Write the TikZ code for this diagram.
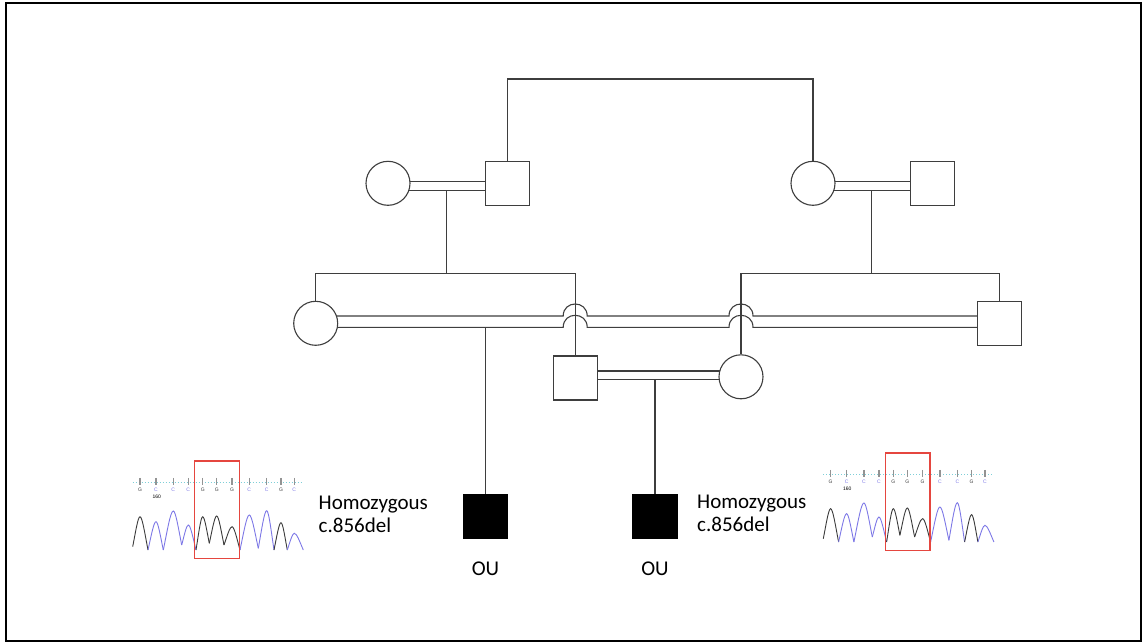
\documentclass[tikz,border=0pt]{standalone}
\usepackage{fontspec}
\setmainfont{Carlito}
\newfontfamily\seqfont{Liberation Sans}
\usetikzlibrary{calc}
\pgfdeclarelayer{bg}\pgfsetlayers{bg,main}
\definecolor{lc}{HTML}{3E3E3E}
\definecolor{tblue}{HTML}{7D78E6}
\definecolor{tgray}{HTML}{3A3A3A}
\definecolor{dotc}{HTML}{7FCFD8}
\definecolor{boxred}{HTML}{E5463F}
\newcommand\hopline[1]{%
  \draw[pl] (C1 |- #1) -- ($(S1 |- #1)+(-12,0)$)
    .. controls +(0,-16) and +(0,-16) .. ($(S1 |- #1)+(12,0)$)
    -- ($(F3 |- #1)+(-12,0)$)
    .. controls +(0,-16) and +(0,-16) .. ($(F3 |- #1)+(12,0)$)
    -- (M3 |- #1);}
\newcommand\pk[7]{%
  \pgfmathsetmacro\pkA{#2+0.4*(#4-#2)}%
  \pgfmathsetmacro\pkB{#3-0.5*(#3-#5)}%
  \pgfmathsetmacro\pkC{#4-0.28*(#4-#2)}%
  \pgfmathsetmacro\pkD{#4+0.28*(#6-#4)}%
  \pgfmathsetmacro\pkE{#6-0.4*(#6-#4)}%
  \pgfmathsetmacro\pkF{#7-0.5*(#7-#5)}%
  \draw[#1] (#2,#3) .. controls (\pkA,\pkB) and (\pkC,#5) .. (#4,#5)
     .. controls (\pkD,#5) and (\pkE,\pkF) .. (#6,#7);}
\newcommand\chromat[2]{%
\begin{scope}[shift={(#1,#2)}]
  \draw[dotc, dotted, line width=1pt] (0,0) -- (170.5,0);
  \foreach \x/\b/\c in {7.3/G/tgray,23.3/C/tblue,40.6/C/tblue,55.6/C/tblue,70/G/tgray,84/G/tgray,99.3/G/tgray,116.6/C/tblue,134/C/tblue,148.3/G/tgray,161.6/C/tblue}{
    \draw[gray!85, line width=1.3pt] (\x,-4.5) -- (\x,3);
    \node[seq, text=\c] at (\x,7.8) {\b};
  }
  \node[seq, text=black] at (24,14.5) {160};
  \pk{tg}{0}{64.4}{7.3}{34.4}{15.3}{67.7}
  \pk{tb}{15.3}{67.7}{23.3}{39.4}{30.6}{67.7}
  \pk{tb}{30.6}{67.7}{40.6}{28.7}{49}{62.7}
  \pk{tb}{49}{62.7}{55.6}{42.7}{63.3}{67.7}
  \pk{tg}{63.3}{67.7}{70}{34.4}{76.6}{61}
  \pk{tg}{76.6}{61}{84}{33.7}{91.3}{62.7}
  \pk{tg}{91.3}{62.7}{99.3}{44.4}{107.3}{67.7}
  \pk{tb}{107.3}{67.7}{116.6}{32.7}{125.6}{66}
  \pk{tb}{125.6}{66}{134}{28.4}{141.3}{67.7}
  \pk{tg}{141.3}{67.7}{148.3}{40.4}{154.6}{67.7}
  \pk{tb}{154.6}{67.7}{161.6}{51}{170.6}{67.7}
  \draw[boxred, line width=1.3pt] (62,-21.3) rectangle (106.7,76.5);
\end{scope}}
\begin{document}
\begin{tikzpicture}[x=1pt,y=-1pt,
  pl/.style={draw=lc, line width=1.1pt},
  fem/.style={circle, draw=lc, fill=white, line width=1.1pt, minimum size=44pt, inner sep=0pt},
  mal/.style={rectangle, draw=lc, fill=white, line width=1.1pt, minimum size=44pt, inner sep=0pt},
  aff/.style={rectangle, draw=black, fill=black, line width=1.1pt, minimum size=44pt, inner sep=0pt},
  lbl/.style={font=\fontsize{21}{23}\selectfont, inner sep=0pt},
  txt/.style={font=\fontsize{21}{22.5}\selectfont, align=left, inner sep=0pt, anchor=west},
  seq/.style={font=\seqfont\fontsize{5}{5.5}\selectfont, inner sep=0pt},
  tg/.style={draw=tgray, line width=0.9pt},
  tb/.style={draw=tblue, line width=0.9pt}]
\useasboundingbox (0,0) rectangle (1144,642);
\draw[line width=2pt] (6,3) rectangle (1141,640.7);

% symbols
\node[fem] (F1) at (388,183.3) {};
\node[mal] (M1) at (507.3,183.3) {};
\node[fem] (F2) at (813,183.3) {};
\node[mal] (M2) at (932.5,183.3) {};
\node[fem] (C1) at (315.7,323.3) {};
\node[mal] (S1) at (575.2,378) {};
\node[fem] (F3) at (741,376.8) {};
\node[mal] (M3) at (999.2,323.3) {};
\node[aff] (P1) at (485.5,516.2) {};
\node[aff] (P2) at (655,516.2) {};
\node[lbl] (L1) at (485.5,569) {OU};
\node[lbl] (L2) at (655,569) {OU};

% connectors
\coordinate (gtop) at (660,79);
\coordinate (y1a) at (0,181.7);
\coordinate (y1b) at (0,190.5);
\coordinate (s1) at (446.7,273.3);
\coordinate (s2) at (871.7,273.3);
\coordinate (yU) at (0,316);
\coordinate (yL) at (0,327.3);
\coordinate (yA) at (0,371);
\coordinate (yB) at (0,379.3);
\begin{pgfonlayer}{bg}
  \draw[pl] (M1.north) |- (gtop) -| (F2.north);
  \draw[pl] (F1 |- y1a) -- (M1 |- y1a);
  \draw[pl] (F1 |- y1b) -- (M1 |- y1b);
  \draw[pl] (F2 |- y1a) -- (M2 |- y1a);
  \draw[pl] (F2 |- y1b) -- (M2 |- y1b);
  \draw[pl] (s1 |- y1b) -- (s1);
  \draw[pl] (s2 |- y1b) -- (s2);
  \draw[pl] (C1.north) |- (s1) -| (S1.north);
  \draw[pl] (F3.north) |- (s2) -| (M3.north);
  \hopline{yU}
  \hopline{yL}
  \draw[pl] (S1 |- yA) -- (F3 |- yA);
  \draw[pl] (S1 |- yB) -- (F3 |- yB);
  \draw[pl] (P1.north |- yL) -- (P1.north);
  \draw[pl] (P2.north |- yB) -- (P2.north);
\end{pgfonlayer}

% texts
\node[txt] (T1) at (318.5,514.5) {Homozygous\\c.856del};
\node[txt] (T2) at (697,513.5) {Homozygous\\c.856del};

% chromatograms
\chromat{132.7}{482.3}
\chromat{823.3}{474.3}
\end{tikzpicture}
\end{document}
